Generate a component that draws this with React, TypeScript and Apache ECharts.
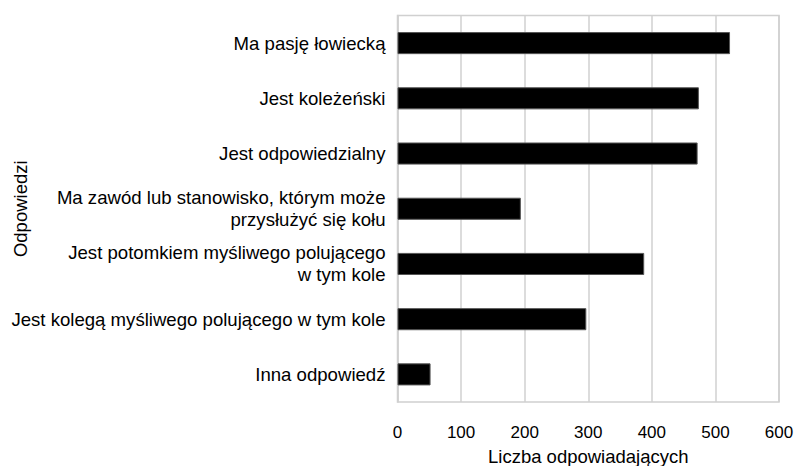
import React, { useEffect, useRef } from "react";
import * as echarts from "echarts";

const categories = [
  "Ma pasję łowiecką",
  "Jest koleżeński",
  "Jest odpowiedzialny",
  "Ma zawód lub stanowisko, którym może\nprzysłużyć się kołu",
  "Jest potomkiem myśliwego polującego\nw tym kole",
  "Jest kolegą myśliwego polującego w tym kole",
  "Inna odpowiedź",
];
const values = [523, 474, 472, 194, 388, 297, 52];
const xTicks = { min: 0, max: 600, interval: 100 };

export default function App() {
  const ref = useRef<HTMLDivElement>(null);
  useEffect(() => {
    document.body.style.margin = "0";
    if (!ref.current) return;
    const chart = echarts.init(ref.current, null, { renderer: "svg" });
    const font = "'Liberation Sans', Arial, sans-serif";
    chart.setOption({
      animation: false,
      textStyle: { fontFamily: font },
      grid: {
        left: 397.5,
        top: 15.5,
        right: 16,
        bottom: 64,
        outerBoundsMode: "none",
        containLabel: false,
        show: true,
        borderColor: "#d0d0d0",
        borderWidth: 1.5,
      },
      xAxis: {
        type: "value",
        min: xTicks.min,
        max: xTicks.max,
        interval: xTicks.interval,
        name: "Liczba odpowiadających",
        nameLocation: "middle",
        nameMoveOverlap: false,
        nameGap: 45,
        nameTextStyle: { fontSize: 18.5, color: "#000", fontFamily: font },
        axisLine: { show: false },
        axisTick: { show: false },
        axisLabel: { fontSize: 17, color: "#000", margin: 22, fontFamily: font },
        splitLine: { lineStyle: { color: "#d0d0d0", width: 1.5 } },
      },
      yAxis: {
        type: "category",
        data: categories,
        inverse: true,
        name: "Odpowiedzi",
        nameLocation: "middle",
        nameMoveOverlap: false,
        nameGap: 377,
        nameRotate: 90,
        nameTextStyle: {
          fontSize: 18.5,
          color: "#000",
          fontFamily: font,
          verticalAlign: "middle",
        },
        axisLine: { show: true, lineStyle: { color: "#d0d0d0", width: 1.5 } },
        axisTick: { show: false },
        axisLabel: {
          fontSize: 18.6,
          color: "#000",
          margin: 12,
          lineHeight: 22,
          align: "right",
          fontFamily: font,
        },
      },
      series: [
        {
          type: "bar",
          data: values,
          barCategoryGap: "60%",
          itemStyle: { color: "#000", borderColor: "#555", borderWidth: 1 },
        },
      ],
    });
    return () => chart.dispose();
  }, []);
  return <div ref={ref} style={{ width: 795, height: 466 }} />;
}
